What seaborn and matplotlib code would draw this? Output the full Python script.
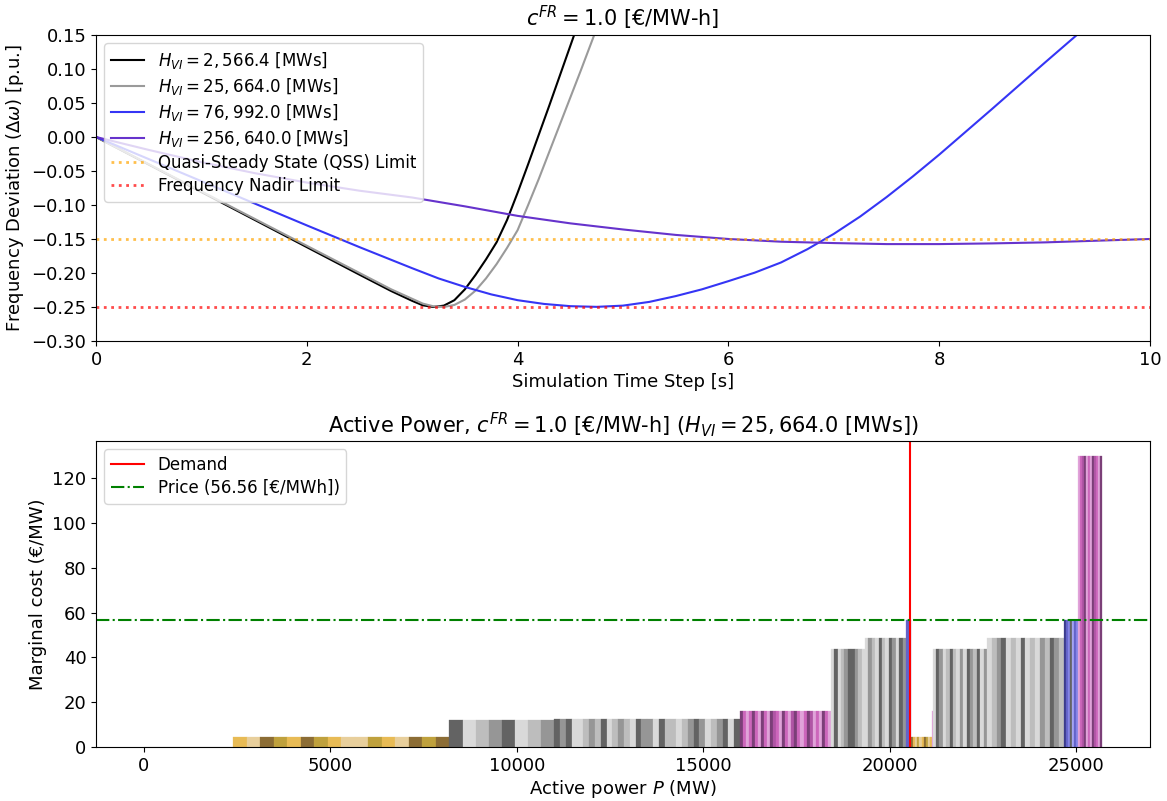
import numpy as np
import pandas as pd
import matplotlib
matplotlib.use("Agg")
import matplotlib.pyplot as plt
from matplotlib.ticker import MultipleLocator
import seaborn as sns

# ---------------- frequency response traces ----------------
t_h1 = [0, 0.5, 1.0, 1.5, 2.0, 2.5, 2.8, 3.0, 3.1, 3.2, 3.3, 3.4, 3.5, 3.6, 3.7,
        3.8, 3.9, 4.0, 4.1, 4.2, 4.3, 4.4, 4.5, 4.6]
dw_h1 = [0, -0.0405, -0.081, -0.1215, -0.162, -0.2025, -0.2265, -0.241, -0.2475, -0.250,
         -0.248, -0.240, -0.224, -0.203, -0.180, -0.155, -0.122, -0.082, -0.040, 0.003,
         0.046, 0.090, 0.134, 0.178]

t_h2 = [0, 0.5, 1.0, 1.5, 2.0, 2.5, 2.8, 3.0, 3.1, 3.2, 3.3, 3.4, 3.5, 3.6, 3.7,
        3.8, 3.9, 4.0, 4.1, 4.2, 4.3, 4.4, 4.5, 4.6, 4.7, 4.8]
dw_h2 = [0, -0.040, -0.080, -0.120, -0.160, -0.200, -0.224, -0.238, -0.245, -0.249,
         -0.250, -0.247, -0.239, -0.226, -0.208, -0.187, -0.163, -0.137, -0.100, -0.062,
         -0.022, 0.018, 0.058, 0.098, 0.139, 0.180]

t_h3 = [0, 0.5, 1.0, 1.5, 2.0, 2.5, 3.0, 3.25, 3.5, 3.75, 4.0, 4.25, 4.5, 4.75, 5.0,
        5.25, 5.5, 5.75, 6.0, 6.25, 6.5, 6.75, 7.0, 7.25, 7.5, 7.75, 8.0, 8.25, 8.5,
        8.75, 9.0, 9.25, 9.5]
dw_h3 = [0, -0.0325, -0.065, -0.0975, -0.130, -0.162, -0.193, -0.208, -0.2205, -0.2315,
         -0.240, -0.2455, -0.2488, -0.2498, -0.248, -0.2425, -0.234, -0.224, -0.212,
         -0.1995, -0.1845, -0.165, -0.1425, -0.117, -0.0885, -0.058, -0.026, 0.0075,
         0.041, 0.075, 0.109, 0.1425, 0.176]

t_h4 = [0, 0.5, 1.0, 1.5, 2.0, 2.5, 3.0, 3.5, 4.0, 4.5, 5.0, 5.5, 6.0, 6.5, 7.0,
        7.5, 8.0, 8.5, 9.0, 9.5, 10.0]
dw_h4 = [0, -0.019, -0.037, -0.053, -0.067, -0.079, -0.089, -0.102, -0.116, -0.127,
         -0.136, -0.144, -0.150, -0.154, -0.156, -0.1575, -0.1575, -0.1565, -0.155,
         -0.1525, -0.150]

h_vi_labels = [r"$H_{VI} = 2,566.4$ [MWs]", r"$H_{VI} = 25,664.0$ [MWs]",
               r"$H_{VI} = 76,992.0$ [MWs]", r"$H_{VI} = 256,640.0$ [MWs]"]
line_colors = ["black", "#9a9a9a", "#3535f5", "#6633cc"]

qss_limit = -0.15
nadir_limit = -0.25

# ---------------- merit order (generation blocks) ----------------
block_cost = [0.0, 4.6, 12.0, 12.4, 16.0, 43.7, 48.6, 56.56, 4.6, 16.0, 43.7, 48.6, 56.56, 130.0]
block_unit_mw = [2400, 362, 352, 155.5, 81, 92, 91.5, 140, 55.5, 22, 91, 129, 54, 53.6]
block_units = [
    "l",
    "abcdacdabbdabcdc",
    "klsmklsm",
    "kmkllsmsklsmslkmmlksslsmkmlsmklk",
    "rpqprpqrpqrtpqrpqtrpqprtqpqrpq",
    "lklsmkkmsl",
    "lmslkslkmlkm",
    "o",
    "cabdbacdba",
    "q",
    "lkmlskslmlkmsklm",
    "lsmklslklslmskms",
    "noukvou",
    "qptrqpqrtpqr",
]
unit_palette = {
    "a": "#e8bb55", "b": "#e8cf9c", "c": "#8c6d35", "d": "#bfa13d",
    "k": "#636363", "m": "#969696", "s": "#bdbdbd", "l": "#d9d9d9",
    "p": "#cc66bb", "q": "#e0a3d9", "r": "#7b3f78", "t": "#b055a5",
    "n": "#3b3b8c", "o": "#6363c9", "u": "#8484e6", "v": "#a3a3f2",
}
demand_mw = 20550
price = 56.56

# ---------------- figure ----------------
plt.rcParams.update({
    "font.size": 13,
    "axes.titlesize": 15,
    "legend.fontsize": 12,
})

dpi = 100
fig, (ax1, ax2) = plt.subplots(2, 1, figsize=(11.67, 8.01), dpi=dpi)
fig.subplots_adjust(left=0.0823, right=0.9854, top=0.9563, bottom=0.0674, hspace=0.327)

traces = [(t_h1, dw_h1), (t_h2, dw_h2), (t_h3, dw_h3), (t_h4, dw_h4)]
for (t, dw), lab, col in zip(traces, h_vi_labels, line_colors):
    df = pd.DataFrame({"t": t, "dw": dw})
    sns.lineplot(data=df, x="t", y="dw", ax=ax1, color=col, label=lab,
                 estimator=None, sort=False, linewidth=1.5)

ax1.axhline(qss_limit, color="orange", alpha=0.7, linestyle=":", linewidth=2,
            label="Quasi-Steady State (QSS) Limit")
ax1.axhline(nadir_limit, color="red", alpha=0.7, linestyle=":", linewidth=2,
            label="Frequency Nadir Limit")
ax1.set_xlim(0, 10)
ax1.set_ylim(-0.30, 0.15)
ax1.yaxis.set_major_locator(MultipleLocator(0.05))
ax1.set_xlabel("Simulation Time Step [s]", labelpad=3)
ax1.set_ylabel(r"Frequency Deviation ($\Delta\omega$) [p.u.]")
ax1.set_title(r"$c^{FR} = 1.0$ [€/MW-h]")
ax1.legend(loc="upper left", labelspacing=0.3)

# expand blocks into individual units
lefts, widths, heights, colors = [], [], [], []
pos = 0.0
for cost, cap, units in zip(block_cost, block_unit_mw, block_units):
    for code in units:
        lefts.append(pos)
        widths.append(cap)
        heights.append(cost)
        colors.append(unit_palette[code])
        pos += cap

ax2.bar(lefts, heights, width=widths, align="edge", color=colors,
        edgecolor=colors, linewidth=0.2)
ax2.axvline(demand_mw, color="red", linewidth=1.5, label="Demand")
ax2.axhline(price, color="green", linestyle="-.", linewidth=1.5,
            label=f"Price ({price:.2f} [€/MWh])")
ax2.set_xlabel(r"Active power $P$ (MW)", labelpad=2)
ax2.set_ylabel("Marginal cost (€/MW)")
ax2.set_title(r"Active Power, $c^{FR} = 1.0$ [€/MW-h] ($H_{VI} = 25,664.0$ [MWs])")
ax2.legend(loc="upper left", labelspacing=0.3)

fig.savefig("out.png", dpi=dpi)
